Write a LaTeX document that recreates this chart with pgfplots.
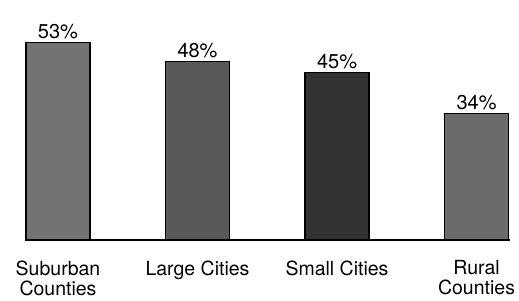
\documentclass[border=0pt]{standalone}
\usepackage{pgfplots}
\pgfplotsset{compat=1.18}
\usepackage{fontspec}
\setmainfont{TeX Gyre Heros}
\begin{document}
\begin{tikzpicture}
\path[use as bounding box] (0,0) rectangle (519pt,300pt);
\begin{axis}[
 at={(25pt,60pt)}, anchor=south west,
 scale only axis, width=485pt, height=223.2pt,
 xmin=-0.2366, xmax=3.240, ymin=0, ymax=60,
 axis x line*=bottom, axis y line=none,
 x axis line style={line width=1.1pt},
 xtick={0,1,2,3},
 xticklabels={{Suburban\\Counties},{Large Cities},{Small Cities},{Rural\\Counties}},
 xticklabel style={align=center, font=\fontsize{19.5}{20}\selectfont, anchor=north, yshift=-17pt},
 major tick length=0pt,
 ytick=\empty,
 ybar, bar width=64pt, bar shift=0pt,
 /pgf/number format/assume math mode=true,
 nodes near coords={\pgfmathprintnumber{\pgfplotspointmeta}\%},
 nodes near coords style={font=\fontsize{20}{20}\selectfont, anchor=south, text=black},
 clip=false,
]
\addplot[fill=black!55, draw=black, line width=1.2pt] coordinates {(0,53)};
\addplot[fill=black!65, draw=black, line width=1.2pt] coordinates {(1,48)};
\addplot[fill=black!80, draw=black, line width=1.2pt] coordinates {(2,45)};
\addplot[fill=black!58, draw=black, line width=1.2pt] coordinates {(3,34)};
\end{axis}
\end{tikzpicture}
\end{document}
